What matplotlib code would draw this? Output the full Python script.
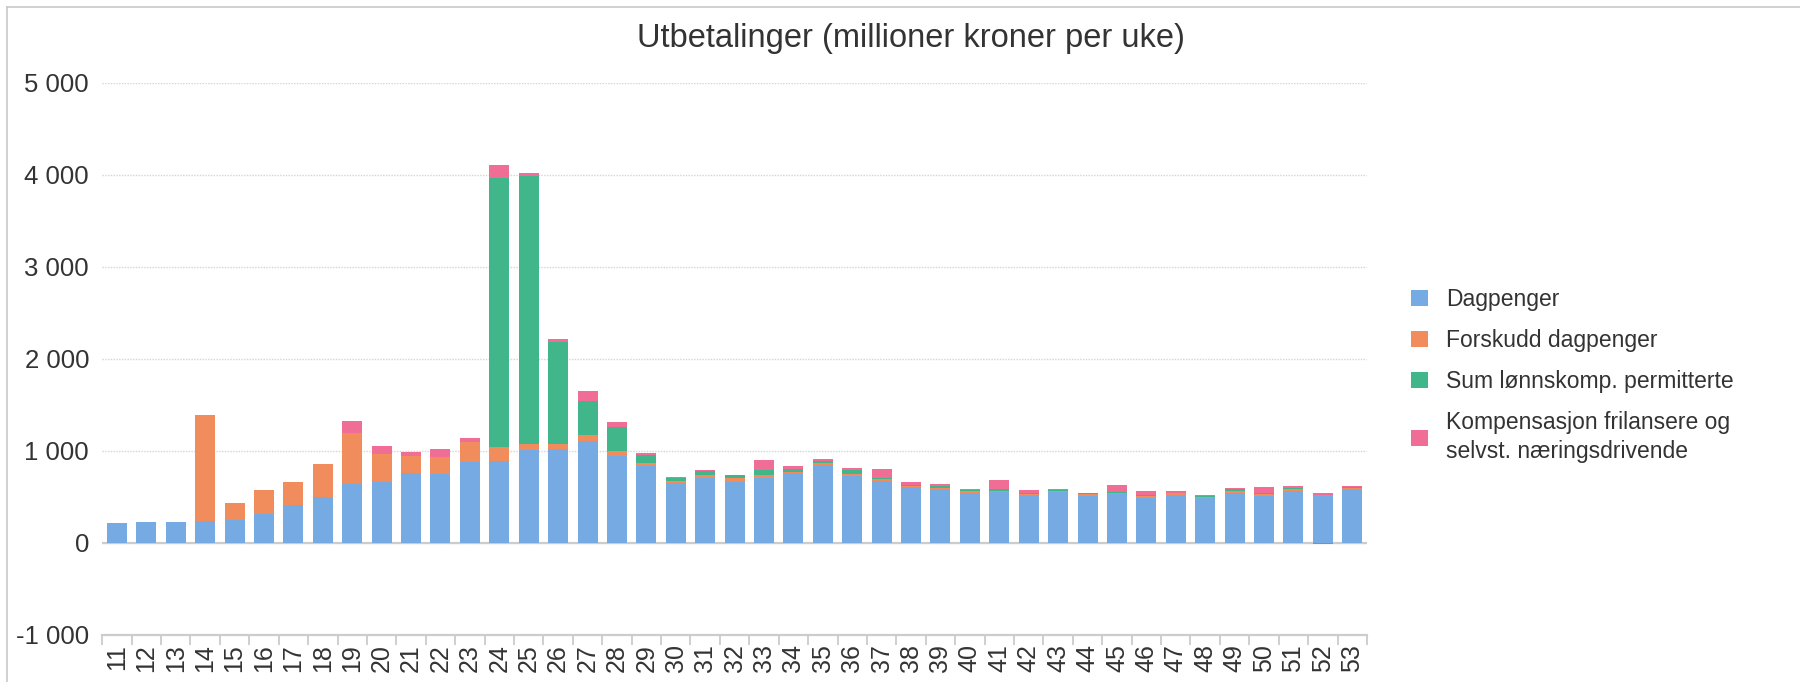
import numpy as np
import matplotlib.pyplot as plt
from matplotlib.patches import Patch
from matplotlib.lines import Line2D
from matplotlib.ticker import FuncFormatter

plt.rcParams['font.family'] = ['Liberation Sans', 'DejaVu Sans']

# uker 11-53, millioner kroner
weeks = [str(w) for w in range(11, 54)]
dagpenger = [217, 228, 228, 239, 250, 312, 406, 496, 634, 663,
             757, 750, 877, 888, 1007, 1014, 1102, 942, 837, 652,
             703, 663, 707, 754, 844, 725, 667, 601, 583, 543,
             554, 514, 547, 511, 529, 489, 514, 489, 543, 511,
             565, 518, 583]
forskudd = [0, 0, 0, 1146, 181, 264, 250, 355, 554, 304,
            189, 181, 221, 152, 65, 59, 65, 58, 29, 18,
            29, 40, 25, 18, 18, 21, 21, 11, 11, 22,
            11, 15, 11, 18, 14, 18, 26, 11, 19, 18,
            18, 5, 7]
lonnskomp = [0, 0, 0, 0, 0, 0, 0, 0, 0, 0,
             0, 0, 0, 2927, 2914, 1112, 377, 258, 87, 33,
             47, 29, 54, 25, 26, 40, 19, 11, 22, 11,
             15, 7, 14, 7, 11, 11, 3, 4, 18, 7,
             15, -15, 11]
frilansere = [0, 0, 0, 0, 0, 0, 0, 0, 138, 84,
              40, 87, 36, 138, 29, 26, 102, 57, 22, 11,
              14, 7, 113, 40, 21, 26, 94, 33, 25, 7,
              101, 33, 11, 7, 73, 44, 19, 10, 14, 69,
              14, 17, 11]

series = [
    ("Dagpenger", dagpenger, "#76aae2"),
    ("Forskudd dagpenger", forskudd, "#f18d5d"),
    ("Sum lønnskomp. permitterte", lonnskomp, "#41b68b"),
    ("Kompensasjon frilansere og\nselvst. næringsdrivende", frilansere, "#f06e95"),
]

fig = plt.figure(figsize=(18, 6.82), dpi=100)
ax = fig.add_axes([0.0568, 0.0694, 0.7026, 0.8094])

x = np.arange(len(weeks))
pos_bottom = np.zeros(len(weeks))
neg_bottom = np.zeros(len(weeks))
for name, vals, col in series:
    v = np.array(vals, dtype=float)
    bottom = np.where(v >= 0, pos_bottom, neg_bottom)
    ax.bar(x, v, width=0.68, bottom=bottom, color=col, linewidth=0, zorder=3)
    pos_bottom += np.where(v >= 0, v, 0)
    neg_bottom += np.where(v < 0, v, 0)

ax.set_xlim(-0.5, len(weeks) - 0.5)
ax.set_ylim(-1000, 5000)
ax.set_yticks(range(-1000, 5001, 1000))
ax.yaxis.set_major_formatter(FuncFormatter(lambda v, p: f"{v:,.0f}".replace(",", " ")))
ax.grid(axis='y', linestyle=(0, (1, 1)), color='#d4d4d4', linewidth=1, zorder=0)
ax.axhline(0, color='#cccccc', linewidth=1.6, zorder=2)

ax.set_xticks(x)
ax.set_xticklabels(weeks, rotation=90, fontsize=18, color='#333333')
ax.set_xticks(np.arange(-0.5, len(weeks), 1), minor=True)
ax.tick_params(axis='x', which='major', length=0, pad=7)
ax.tick_params(axis='x', which='minor', length=7, color='#cccccc', width=1.3)
ax.tick_params(axis='y', length=0, pad=9.5, labelsize=18.5, labelcolor='#333333')

for s in ['top', 'right', 'left']:
    ax.spines[s].set_visible(False)
ax.spines['bottom'].set_color('#cccccc')
ax.spines['bottom'].set_linewidth(1.6)

fig.text(0.506, 0.944, "Utbetalinger (millioner kroner per uke)", ha='center', va='center',
         fontsize=23.5, color='#333333')

handles = [Patch(facecolor=c, edgecolor='none', label=n) for n, _, c in series]
leg = fig.legend(handles=handles, loc='center left', bbox_to_anchor=(0.7778, 0.449),
                 frameon=False, fontsize=16.5, handlelength=0.72, handleheight=0.72,
                 handletextpad=0.8, labelspacing=0.78, borderpad=0, labelcolor='#333333')
for t in leg.get_texts():
    t.set_linespacing(1.35)

# tynn ramme oppe og til venstre
fig.add_artist(Line2D([0.0039, 0.0039], [0, 0.9893], color='#c8c8c8', linewidth=1.2))
fig.add_artist(Line2D([0.0039, 1], [0.9893, 0.9893], color='#c8c8c8', linewidth=1.2))

fig.savefig("out.png", dpi=100)
